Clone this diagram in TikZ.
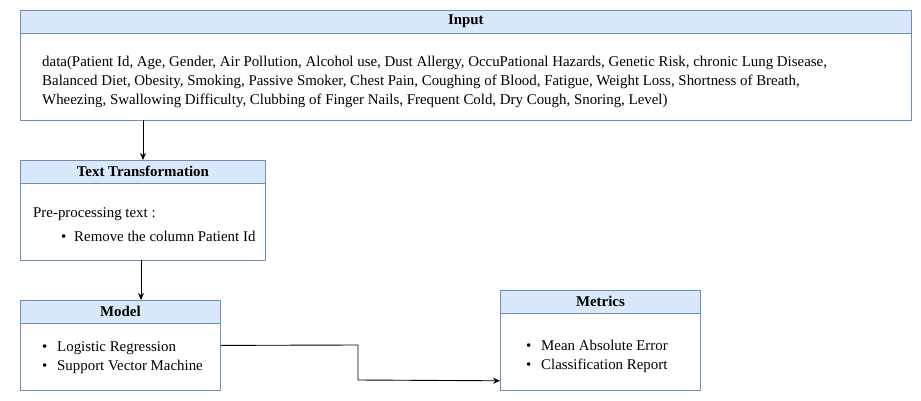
\documentclass[tikz,border=0pt]{standalone}
\usepackage{fontspec}
\setmainfont{Liberation Serif}
\newfontfamily\tnr{Liberation Serif}
\usetikzlibrary{arrows.meta}
\definecolor{hdr}{HTML}{DAE8FC}
\definecolor{brd}{HTML}{6C8EBF}
\begin{document}
\begin{tikzpicture}[x=1pt,y=-1pt,
  box/.style={draw=brd, line width=0.8pt, fill=white, anchor=north west, inner sep=0pt},
  head/.style={fill=hdr, draw=brd, line width=0.8pt},
  htxt/.style={font=\tnr\fontsize{14.9}{17}\selectfont\bfseries, inner sep=0pt},
  txt/.style={font=\tnr\fontsize{14.9}{17}\selectfont, anchor=base west, inner sep=0pt},
  conn/.style={draw=black, line width=0.9pt, -{Stealth[length=7pt,width=6pt]}}]
\useasboundingbox (0,0) rectangle (921,401);
% Input
\node[box, minimum width=891pt, minimum height=110pt] (input) at (20,10) {};
\filldraw[head] (input.north west) rectangle ([yshift=-23pt]input.north east);
\node[htxt] (inputT) at ([yshift=-11.5pt]input.north) {Input};
\node[txt] (in1) at (42,67) {data(Patient Id, Age, Gender, Air Pollution, Alcohol use, Dust Allergy, OccuPational Hazards, Genetic Risk, chronic Lung Disease,};
\node[txt] (in2) at (42,86) {Balanced Diet, Obesity, Smoking, Passive Smoker, Chest Pain, Coughing of Blood, Fatigue, Weight Loss, Shortness of Breath,};
\node[txt] (in3) at (42,105) {Wheezing, Swallowing Difficulty, Clubbing of Finger Nails, Frequent Cold, Dry Cough, Snoring, Level)};
% Text Transformation
\node[box, minimum width=245pt, minimum height=100pt] (tt) at (20,160) {};
\filldraw[head] (tt.north west) rectangle ([yshift=-23pt]tt.north east);
\node[htxt] (ttT) at ([yshift=-11.5pt]tt.north) {Text Transformation};
\node[txt] (tt1) at (33,217) {Pre-processing text :};
\node[txt] (tt2b) at (61,241) {•};
\node[txt] (tt2) at (74,241) {Remove the column Patient Id};
% Model
\node[box, minimum width=200pt, minimum height=90pt] (model) at (20,300) {};
\filldraw[head] (model.north west) rectangle ([yshift=-23pt]model.north east);
\node[htxt] (modelT) at ([yshift=-11.5pt]model.north) {Model};
\node[txt] (m1b) at (42,351) {•};
\node[txt] (m1) at (57,351) {Logistic Regression};
\node[txt] (m2b) at (42,370) {•};
\node[txt] (m2) at (57,370) {Support Vector Machine};
% Metrics
\node[box, minimum width=200pt, minimum height=100pt] (metrics) at (500,290) {};
\filldraw[head] (metrics.north west) rectangle ([yshift=-23pt]metrics.north east);
\node[htxt] (metricsT) at ([yshift=-11.5pt]metrics.north) {Metrics};
\node[txt] (k1b) at (526,350) {•};
\node[txt] (k1) at (541,350) {Mean Absolute Error};
\node[txt] (k2b) at (526,369) {•};
\node[txt] (k2) at (541,369) {Classification Report};
% connectors
\coordinate (inS) at (143,120);
\coordinate (ttN) at (143,160);
\draw[conn] (inS) -- (ttN);
\coordinate (ttS) at (141,260);
\coordinate (modelN) at (141,300);
\draw[conn] (ttS) -- (modelN);
\coordinate (metIn) at ([yshift=10pt]metrics.south west);
\draw[conn] (model.east) -- (358,345) -- (358,380) -- (metIn);
\end{tikzpicture}
\end{document}
